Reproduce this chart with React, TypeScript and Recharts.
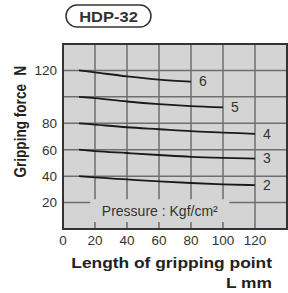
import { LineChart, Line, XAxis, YAxis, CartesianGrid, ReferenceArea, LabelList } from 'recharts'

const xs = [10, 20, 40, 60, 80, 100, 120]
const p2 = [40, 39, 37.5, 36, 34.8, 33.8, 33.2]
const p3 = [60, 59, 57.5, 56, 54.6, 53.8, 53.3]
const p4 = [80, 79, 77, 75.5, 74, 73, 72]
const p5 = [100, 99, 96.5, 94.5, 93, 92]
const p6 = [120, 118.5, 115.5, 113, 111.5]
const pressures = ['2', '3', '4', '5', '6']
const xTicks = [0, 20, 40, 60, 80, 100, 120, 140]
const yTicks = [20, 40, 60, 80, 100, 120, 140]

const series = [p2, p3, p4, p5, p6]
const rows = xs.map((x, i) => {
  const r: Record<string, number | undefined> = { x }
  series.forEach((s, k) => { r['p' + pressures[k]] = s[i] })
  return r
})

const FONT = '"Liberation Sans", Arial, sans-serif'
// the source scan is squashed vertically a bit
const SQ = 0.85

function EndLabel(props: any) {
  const { x, y, index, name, last } = props
  if (index !== last) return null
  return (
    <text x={x + 8} y={y + 1} dominantBaseline="middle" fontSize={14} fill="#333" fontFamily={FONT}>{name}</text>
  )
}

export default function App() {
  return (
    <div style={{ position: 'absolute', left: 0, top: 0, width: 288, height: 293, background: '#fff', fontFamily: FONT }}>
      <div style={{ position: 'absolute', left: 0, top: 0 }}>
        <LineChart width={288} height={293} data={rows} margin={{ top: 44, right: 1, bottom: 34, left: 0 }}>
          <CartesianGrid fill="#d4d4d4" stroke="#6e6e6e" strokeWidth={1.5} strokeDasharray="" />
          <XAxis dataKey="x" type="number" domain={[0, 140]} ticks={xTicks} interval={0}
            tickFormatter={(v: number) => (v === 140 ? '' : String(v))}
            tickSize={0} tickMargin={6} axisLine={false} height={30}
            tick={{ fontSize: 13.5, fill: '#333', fontFamily: FONT }} />
          <YAxis type="number" domain={[0, 140]} ticks={yTicks} interval={0} width={63}
            tickFormatter={(v: number) => (v === 100 || v === 140 ? '' : String(v))}
            tickSize={0} tickMargin={6} axisLine={false}
            tick={{ fontSize: 13.5, fill: '#333', fontFamily: FONT }} />
          <ReferenceArea x1={17} x2={104} y1={5.3} y2={22.5} fill="#d4d4d4" fillOpacity={1} stroke="none"
            label={{ value: 'Pressure : Kgf/cm²', position: 'center', fontSize: 14, fill: '#333', fontFamily: FONT }} />
          <ReferenceArea x1={0} x2={140} y1={0} y2={140} fill="none" stroke="#333" strokeWidth={2} />
          {series.map((s, k) => (
            <Line key={k} dataKey={'p' + pressures[k]} type="monotone" stroke="#1a1a1a" strokeWidth={1.8}
              dot={false} isAnimationActive={false}>
              <LabelList dataKey={'p' + pressures[k]}
                content={(p: any) => <EndLabel {...p} name={pressures[k]} last={s.length - 1} />} />
            </Line>
          ))}
        </LineChart>
      </div>

      <svg width={288} height={293} style={{ position: 'absolute', left: 0, top: 0, pointerEvents: 'none' }}
        fontFamily={FONT} fontWeight="bold" fill="#222">
        {/* title pill */}
        <rect x={66} y={5} width={85} height={22} rx={11} fill="#fff" stroke="#333" strokeWidth={1.5} />
        <text transform={`translate(108.5,21.7) scale(1,${SQ})`} textAnchor="middle" fontSize={16.5} fill="#333">HDP-32</text>

        {/* y axis title */}
        <text transform={`translate(25.5,84) rotate(-90) scale(${SQ},1)`} textAnchor="end" fontSize={16}>Gripping force</text>
        <text transform={`translate(25.5,66) rotate(-90) scale(${SQ},1)`} textAnchor="end" fontSize={16}>N</text>

        {/* x axis title */}
        <text transform={`translate(272,268.3) scale(1,${SQ})`} textAnchor="end" fontSize={17.4}>Length of gripping point</text>
        <text transform={`translate(272,288) scale(1,${SQ})`} textAnchor="end" fontSize={17.4}>L mm</text>
      </svg>
    </div>
  )
}
